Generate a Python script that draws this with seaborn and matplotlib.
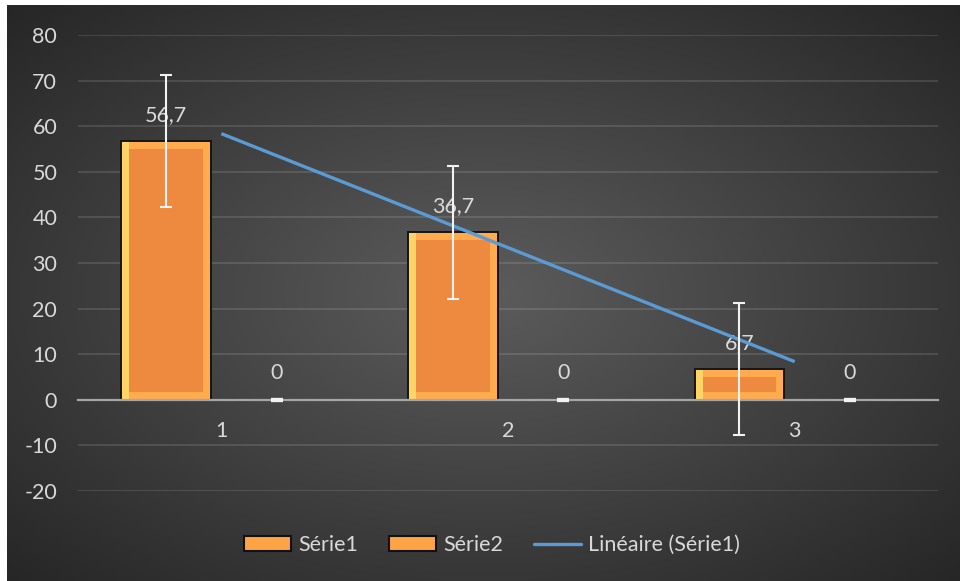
import numpy as np
import pandas as pd
import matplotlib
matplotlib.use("Agg")
import matplotlib.pyplot as plt
import seaborn as sns
from matplotlib.patches import Rectangle, Patch
from matplotlib.lines import Line2D

# ---- data -------------------------------------------------------------
categories = ["1", "2", "3"]
serie1 = [56.7, 36.7, 6.7]
serie2 = [0, 0, 0]
series_names = ["Série1", "Série2"]
error_amount = [14.5, 0.0]
trend_label = "Linéaire (Série1)"
y_ticks = list(range(-20, 81, 10))

# ---- style ------------------------------------------------------------
sns.set_theme(style="dark")
plt.rcParams["font.family"] = ["Lato", "DejaVu Sans"]
plt.rcParams["axes.unicode_minus"] = False

FS = 15.5
TEXT = "#D9D9D9"
ORANGE = "#EE8A40"
BEVEL = "#FFAB4E"
BEVEL_LEFT = "#FFD466"
TREND = "#5B9BD5"

df = pd.DataFrame({
    "cat": categories * 2,
    "val": serie1 + serie2,
    "serie": [series_names[0]] * len(serie1) + [series_names[1]] * len(serie2),
})

fig = plt.figure(figsize=(9.6, 5.81), dpi=100, facecolor="white")

# dark radial background panel
bg = fig.add_axes([7 / 960, 0, 953 / 960, 576 / 581])
h, w = 576, 953
yy, xx = np.mgrid[0:h, 0:w]
r = np.sqrt(((xx - w / 2) / (w / 2)) ** 2 + ((yy - h / 2) / (h / 2)) ** 2) / np.sqrt(2)
r = np.clip(r, 0, 1)
c0, c1 = 0x5C / 255, 0x26 / 255
shade = c0 + (c1 - c0) * r
bg.imshow(np.dstack([shade, shade, shade]), aspect="auto", interpolation="bilinear")
bg.set_axis_off()

ax = fig.add_axes([78 / 960, 1 - 491 / 581, 860 / 960, 456 / 581])
ax.patch.set_alpha(0)

sns.barplot(data=df, x="cat", y="val", hue="serie", hue_order=series_names,
            palette=[ORANGE, ORANGE], saturation=1, width=0.77, gap=0.19,
            linewidth=0, errorbar=None, legend=False, ax=ax, zorder=2)

bars = list(ax.patches)
bars1 = bars[:len(serie1)]
bars2 = bars[len(serie1):]

# bevelled look: thick inner edge, lighter left strip, thin dark outline
for p in bars:
    x0, y0 = p.get_xy()
    bw, bh = p.get_width(), p.get_height()
    if bh == 0:
        p.set_visible(False)
        continue
    clip = Rectangle((x0, y0), bw, bh, transform=ax.transData)
    p.set_edgecolor(BEVEL)
    p.set_linewidth(11.5)
    p.set_clip_path(clip)
    strip = Rectangle((x0, y0), bw * 0.09, bh, facecolor=BEVEL_LEFT,
                      edgecolor="none", zorder=2.1)
    ax.add_patch(strip)
    strip.set_clip_path(Rectangle((x0, y0), bw, bh, transform=ax.transData))
    ax.add_patch(Rectangle((x0, y0), bw, bh, fill=False, edgecolor="#151515",
                           linewidth=1.4, zorder=2.2))

# data labels
for group, vals in ((bars1, serie1), (bars2, serie2)):
    for p, v in zip(group, vals):
        cx = p.get_x() + p.get_width() / 2
        ax.annotate(f"{v:g}".replace(".", ","), (cx, v), xytext=(0, 19),
                    textcoords="offset points", ha="center", va="center",
                    fontsize=FS, color=TEXT, zorder=3)

# error bars
x1 = [p.get_x() + p.get_width() / 2 for p in bars1]
x2 = [p.get_x() + p.get_width() / 2 for p in bars2]
ax.errorbar(x1, serie1, yerr=error_amount[0], fmt="none", ecolor="#F2F2F2",
            elinewidth=1.5, capsize=4.3, capthick=1.5, zorder=5)
ax.errorbar(x2, serie2, yerr=error_amount[1], fmt="none", ecolor="#F2F2F2",
            elinewidth=1.5, capsize=4.6, capthick=3, zorder=5)

# linear trend of Série1
positions = np.arange(len(categories))
sns.regplot(x=positions, y=np.array(serie1), scatter=False, ci=None, truncate=True,
            line_kws=dict(color=TREND, lw=2.4, zorder=4, solid_capstyle="butt"), ax=ax)

ax.set_xlim(-0.5, len(categories) - 0.5)
ax.set_ylim(y_ticks[0], y_ticks[-1])
ax.set_yticks(y_ticks)
ax.set_xticks(positions)
ax.set_xticklabels(categories)
ax.set_xlabel("")
ax.set_ylabel("")

for side in ("top", "right", "left"):
    ax.spines[side].set_visible(False)
ax.spines["bottom"].set_position(("data", 0))
ax.spines["bottom"].set_color("#A6A6A6")
ax.spines["bottom"].set_linewidth(1.6)
ax.spines["bottom"].set_zorder(2.5)

ax.yaxis.grid(True, color="white", alpha=0.13, linewidth=1.3)
ax.xaxis.grid(False)
ax.set_axisbelow(True)
ax.tick_params(axis="both", length=0, labelcolor=TEXT, labelsize=FS)
ax.tick_params(axis="y", pad=15)
ax.tick_params(axis="x", pad=15)

handles = [
    Patch(facecolor="#FFA444", edgecolor="#111111", linewidth=1.5),
    Patch(facecolor="#FFA444", edgecolor="#111111", linewidth=1.5),
    Line2D([], [], color=TREND, lw=2.4),
]
fig.legend(handles, series_names + [trend_label], loc="center",
           bbox_to_anchor=(492 / 960, 1 - 545 / 581), ncol=3, frameon=False,
           fontsize=FS, labelcolor=TEXT, handlelength=2.2, handleheight=0.65,
           handletextpad=0.35, columnspacing=1.4)

fig.savefig("out.png", dpi=100, facecolor=fig.get_facecolor())
